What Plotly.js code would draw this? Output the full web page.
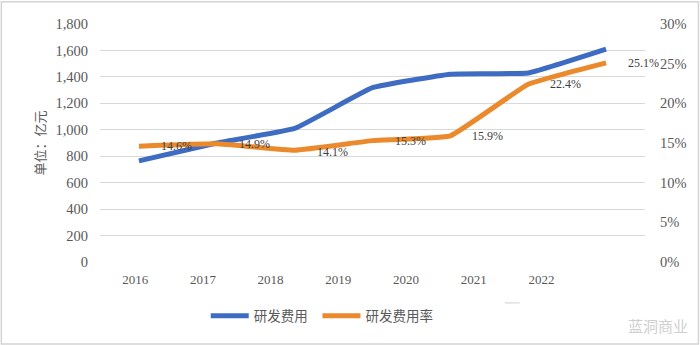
<!DOCTYPE html>
<html><head><meta charset="utf-8">
<script src="https://cdn.plot.ly/plotly-3.0.1.min.js"></script>
<style>html,body{margin:0;padding:0;background:#fff}#c{width:700px;height:345px}</style>
</head><body><div id="c"></div>
<script>
const years = ['2016','2017','2018','2019','2020','2021','2022'];
const rdExpense = [765, 900, 1010, 1318, 1420, 1430, 1610];
const rdRate = [14.6, 14.9, 14.1, 15.3, 15.9, 22.4, 25.1];
const rateLabels = ['14.6%','14.9%','14.1%','15.3%','15.9%','22.4%','25.1%'];
const leftTicks = [0,200,400,600,800,1000,1200,1400,1600,1800];
const leftTickText = ['0','200','400','600','800','1,000','1,200','1,400','1,600','1,800'];
const rightTicks = [0,5,10,15,20,25,30];
const rightTickText = ['0%','5%','10%','15%','20%','25%','30%'];
const xIdx = years.map((_, i) => i);

const serif = 'Liberation Serif, Times New Roman, serif';
const cjk = 'Noto Sans CJK SC, sans-serif';

const traces = [
  {x: xIdx, y: rdExpense, name: '研发费用', type: 'scatter', mode: 'lines', legend: 'legend',
   line: {color: '#3d6cc2', width: 5, shape: 'spline', smoothing: 0.3}, yaxis: 'y'},
  {x: xIdx, y: rdRate, name: '研发费用率', type: 'scatter', mode: 'lines', legend: 'legend2',
   line: {color: '#eb8a2c', width: 5, shape: 'spline', smoothing: 0.3}, yaxis: 'y2'}
];

const annotations = rateLabels.map((t, i) => ({
  x: xIdx[i], y: rdRate[i], xref: 'x', yref: 'y2', text: t, showarrow: false,
  xanchor: 'left', yanchor: 'middle', xshift: 20, yshift: (i === 2 ? -2 : 0),
  font: {family: serif, size: 12, color: '#404040'}
}));
annotations.push({
  xref: 'paper', yref: 'paper', x: 1.083, y: -0.265, xanchor: 'right', yanchor: 'middle',
  text: '蓝洞商业', showarrow: false,
  font: {family: cjk, size: 15, color: '#d0d0d0'}
});

const legendBase = {orientation: 'h', xanchor: 'left', y: -0.227, yanchor: 'middle',
  font: {family: cjk, size: 13.5, color: '#595959'}, itemwidth: 38,
  bgcolor: 'rgba(0,0,0,0)'};

const layout = {
  width: 700, height: 345,
  margin: {l: 100, r: 55, t: 24, b: 83},
  paper_bgcolor: '#ffffff', plot_bgcolor: '#ffffff',
  showlegend: true,
  legend: Object.assign({}, legendBase, {x: 0.194}),
  legend2: Object.assign({}, legendBase, {x: 0.399}),
  xaxis: {type: 'linear', range: [-0.5, 6.5], showticklabels: false, showgrid: false,
    zeroline: false, showline: false, ticks: ''},
  xaxis2: {type: 'linear', overlaying: 'x', anchor: 'y', side: 'bottom',
    range: [-0.52, 7.53], tickvals: xIdx, ticktext: years, showgrid: false, zeroline: false,
    showline: false, ticks: '', ticklabelstandoff: 8,
    tickfont: {family: serif, size: 13, color: '#595959'}},
  yaxis: {range: [0, 1800], tickvals: leftTicks, ticktext: leftTickText,
    showgrid: true, gridcolor: '#d9d9d9', gridwidth: 1, zeroline: false, showline: false,
    ticks: '', ticklabelstandoff: 11,
    tickfont: {family: serif, size: 14.5, color: '#595959'},
    title: {text: '单位：亿元', font: {family: cjk, size: 13, color: '#595959'}, standoff: 6}},
  yaxis2: {range: [0, 30], overlaying: 'y', side: 'right', tickvals: rightTicks,
    ticktext: rightTickText, showgrid: false, zeroline: false, showline: false, ticks: '',
    ticklabelstandoff: 14,
    tickfont: {family: serif, size: 14.5, color: '#595959'}},
  annotations: annotations,
  shapes: [
    {type: 'rect', xref: 'paper', yref: 'paper', x0: -0.181, x1: 1.098, y0: -0.345, y1: 1.094,
     line: {color: '#d4d4d4', width: 1.5}},
    {type: 'line', xref: 'paper', yref: 'paper', x0: 0.743, x1: 0.77, y0: -0.172, y1: -0.172,
     line: {color: '#cfcfcf', width: 1}}
  ]
};

traces.push({x: [0], y: [null], xaxis: 'x2', yaxis: 'y', showlegend: false, hoverinfo: 'skip',
  type: 'scatter', mode: 'lines'});

Plotly.newPlot('c', traces, layout, {displayModeBar: false, staticPlot: true});
</script></body></html>
